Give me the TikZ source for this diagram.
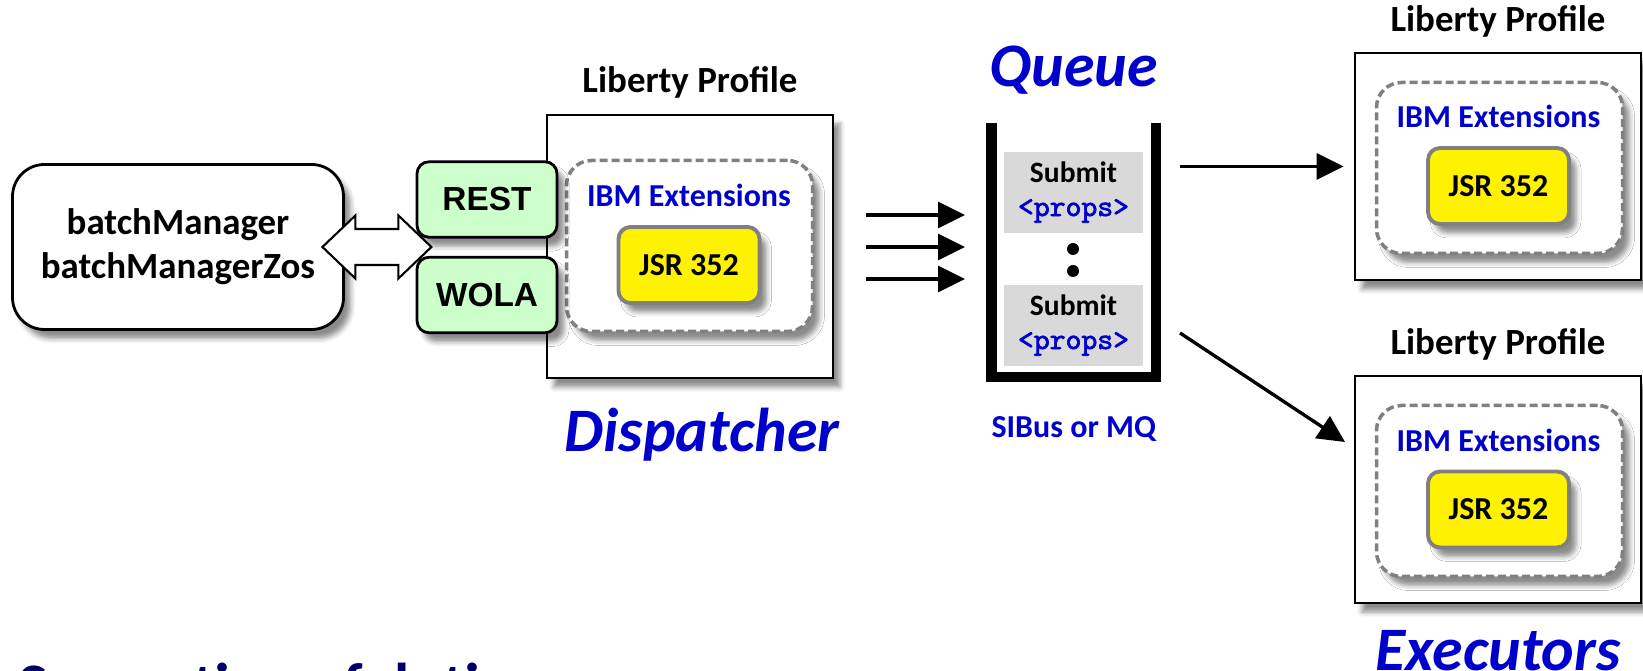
\documentclass[tikz,border=0pt]{standalone}
\usepackage{fontspec}
\setmainfont{Carlito}
\newfontfamily\arialfont{Liberation Sans}
\newfontfamily\propfont{lmmono10-regular.otf}[FakeBold=2.2]
\usepackage{tikz}
\usetikzlibrary{arrows.meta,shadows.blur,positioning,calc}
\definecolor{ibmblue}{RGB}{0,0,204}
\definecolor{navy}{RGB}{0,0,102}
\definecolor{apigreen}{RGB}{204,255,204}
\definecolor{jobgray}{RGB}{217,217,217}
\newcommand{\propstag}{{\propfont\bfseries\fontsize{8.6}{9.4}\selectfont\color{ibmblue}<props>}}
\tikzset{
    soft/.style={
        blur shadow={shadow xshift=0.07cm, shadow yshift=-0.09cm,
            shadow blur radius=0.05cm, shadow opacity=45},
    },
    client/.style={
        rectangle,
        rounded corners=0.32cm,
        draw=black,
        line width=0.8pt,
        fill=white,
        minimum width=3.31cm,
        minimum height=1.65cm,
        align=center,
        font=\bfseries\fontsize{10.5}{12.5}\selectfont,
        soft,
    },
    api/.style={
        rectangle,
        rounded corners=0.12cm,
        draw=black,
        line width=0.8pt,
        fill=apigreen,
        minimum width=1.40cm,
        minimum height=0.755cm,
        font=\arialfont\bfseries\fontsize{9.5}{11}\selectfont,
        soft,
    },
    server/.style={
        rectangle,
        draw=black,
        line width=0.8pt,
        fill=white,
        minimum width=2.86cm,
        soft,
    },
    ext/.style={
        rectangle,
        rounded corners=0.25cm,
        draw=gray,
        dash pattern=on 0.08cm off 0.04cm,
        line width=1pt,
        fill=white,
        minimum width=2.46cm,
        minimum height=1.71cm,
        soft,
    },
    spec/.style={
        rectangle,
        rounded corners=0.12cm,
        draw=gray,
        line width=1.1pt,
        fill=yellow,
        minimum width=1.41cm,
        minimum height=0.76cm,
        font=\bfseries\fontsize{9.1}{11}\selectfont,
        soft,
    },
    job/.style={
        rectangle,
        fill=jobgray,
        minimum width=1.39cm,
        minimum height=0.81cm,
        inner sep=0pt,
        align=center,
        font=\bfseries\fontsize{8.4}{9.4}\selectfont,
    },
    dot/.style={
        circle,
        fill=black,
        inner sep=0pt,
        minimum size=0.12cm,
    },
    title/.style={
        inner sep=0pt,
        font=\bfseries\fontsize{10.5}{12.5}\selectfont,
    },
    note/.style={
        inner sep=0pt,
        text=ibmblue,
        font=\bfseries\fontsize{9.1}{11}\selectfont,
    },
    role/.style={
        inner sep=0pt,
        text=ibmblue,
        font=\bfseries\itshape\fontsize{17.6}{20}\selectfont,
    },
    link/.style={
        draw=black,
        fill=white,
        line width=0.6pt,
        line join=miter,
    },
    wall/.style={
        draw=black,
        line width=0.105cm,
        line join=miter,
    },
    flow/.style={
        draw,
        ->,>={Triangle[length=0.27cm,width=0.26cm]},
        line width=0.95pt,
    },
}

\begin{document}
\begin{tikzpicture}
    \useasboundingbox (0,0) rectangle (16.43,-6.71);
    \clip (0,0) rectangle (16.43,-6.71);

    % client side
    \node [client] (mgr) at (1.78,-2.47) {batchManager\\batchManagerZos};

    % dispatcher
    \node [server, minimum height=2.63cm] (disp) at (6.90,-2.465) {};
    \node [title, above=0.15cm of disp] (dispprof) {Liberty Profile};
    \node [ext] (dispext) at (6.895,-2.46) {};
    \node [spec] (dispspec) at (6.89,-2.65) {JSR 352};
    \node [note, above=0.175cm of dispspec] (dispextlbl) {IBM Extensions};
    \node [role, below=0.28cm of disp, xshift=0.12cm] (disprole) {Dispatcher};
    \node [api] (rest) at (4.87,-1.995) {REST};
    \node [api] (wola) at (4.87,-2.95) {WOLA};

    \coordinate (lt) at ($(mgr.east)+(-0.225,0)$);
    \draw [link] (lt) -- ++(0.33,0.315) -- ++(0,-0.135) -- ++(0.43,0) -- ++(0,0.135)
        -- ++(0.33,-0.315) -- ++(-0.33,-0.315) -- ++(0,0.135) -- ++(-0.43,0)
        -- ++(0,-0.135) -- cycle;

    % queue
    \node [inner sep=0pt, minimum width=1.635cm, minimum height=2.525cm] (queue) at (10.7375,-2.5025) {};
    \draw [wall] (queue.north west) -- (queue.south west) -- (queue.south east) -- (queue.north east);
    \node [job] (job1) at (10.735,-1.925) {Submit\\\propstag};
    \node [job] (job2) at (10.735,-3.255) {Submit\\\propstag};
    \node [dot] (dot1) at (10.73,-2.49) {};
    \node [dot] (dot2) at (10.73,-2.71) {};
    \node [role, above=0.28cm of queue] (queuerole) {Queue};
    \node [note, below=0.39cm of queue] (bus) {SIBus or MQ};

    \coordinate (feed1) at (8.66,-2.15);
    \coordinate (feed2) at (8.66,-2.47);
    \coordinate (feed3) at (8.66,-2.79);
    \coordinate (slot1) at (9.65,-2.15);
    \coordinate (slot2) at (9.65,-2.47);
    \coordinate (slot3) at (9.65,-2.79);
    \draw [flow] (feed1) -- (slot1);
    \draw [flow] (feed2) -- (slot2);
    \draw [flow] (feed3) -- (slot3);

    % executors
    \node [server, minimum height=2.27cm] (exe1) at (14.98,-1.665) {};
    \node [title, above=0.14cm of exe1] (exe1prof) {Liberty Profile};
    \node [ext] (exe1ext) at (14.995,-1.68) {};
    \node [spec] (exe1spec) at (14.985,-1.86) {JSR 352};
    \node [note, above=0.175cm of exe1spec] (exe1extlbl) {IBM Extensions};

    \node [server, minimum height=2.27cm] (exe2) at (14.98,-4.895) {};
    \node [title, above=0.14cm of exe2] (exe2prof) {Liberty Profile};
    \node [ext] (exe2ext) at (14.995,-4.91) {};
    \node [spec] (exe2spec) at (14.985,-5.095) {JSR 352};
    \node [note, above=0.175cm of exe2spec] (exe2extlbl) {IBM Extensions};
    \node [role, below=0.25cm of exe2] (exerole) {Executors};

    \coordinate (out1) at (11.80,-1.665);
    \coordinate (out2) at (11.80,-3.33);
    \coordinate (in2) at (13.45,-4.42);
    \draw [flow, shorten >=0.1cm] (out1) -- (exe1.west);
    \draw [flow] (out2) -- (in2);

    % caption, cut by the page edge
    \node [anchor=base west, inner sep=0pt, text=navy,
        font=\bfseries\fontsize{17.6}{20}\selectfont] (motto) at (0.18,-7.07) {Separation of duties};
\end{tikzpicture}
\end{document}
